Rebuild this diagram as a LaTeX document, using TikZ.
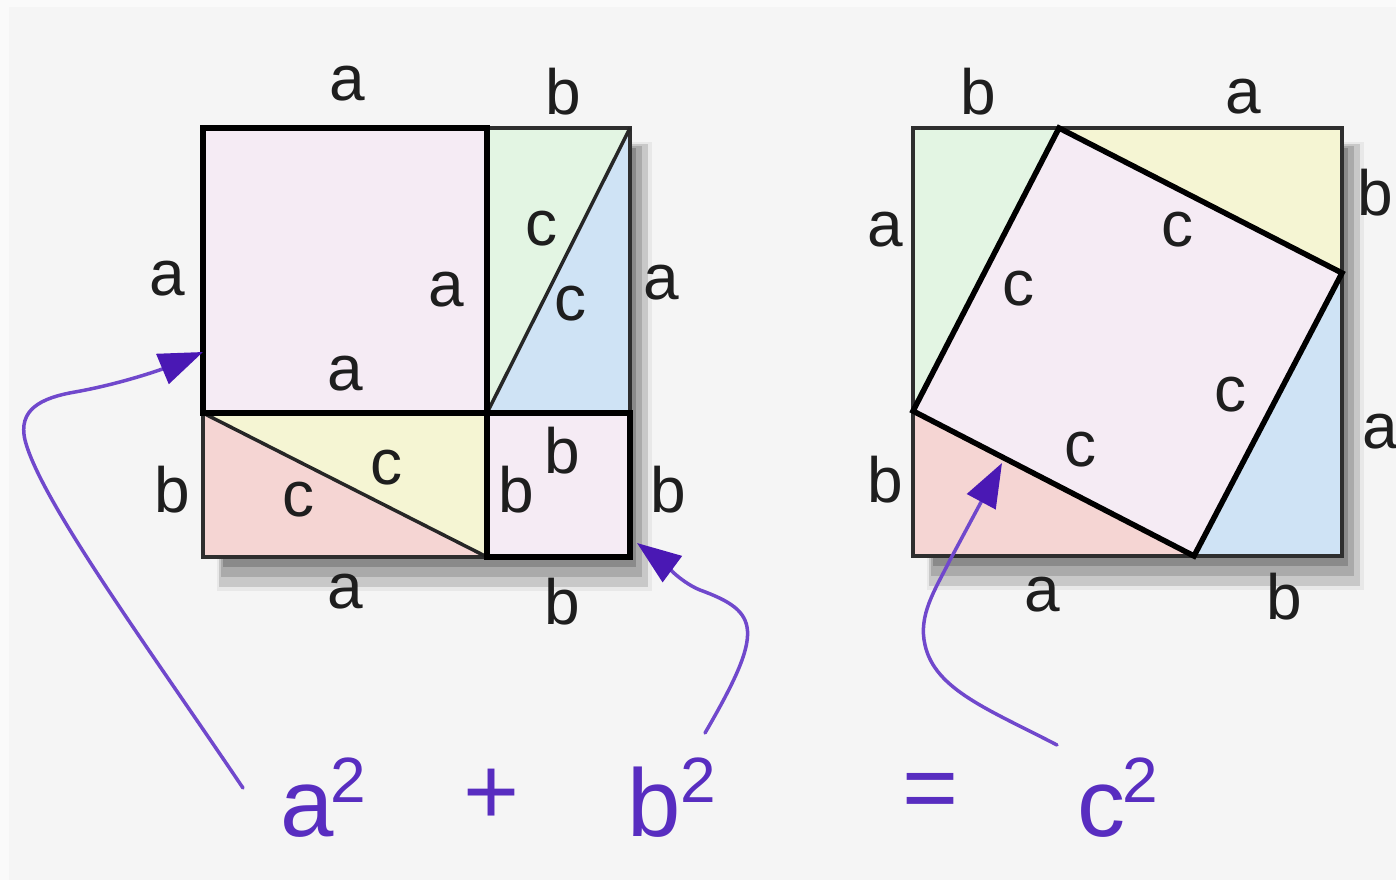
\documentclass[tikz,border=0pt]{standalone}
\usepackage{fontspec}
\setmainfont{Liberation Sans}
\usetikzlibrary{arrows.meta}
\definecolor{bgc}{HTML}{F5F5F5}
\definecolor{bgedge}{HTML}{FAFAFA}
\definecolor{pinkA}{HTML}{F5EBF4}
\definecolor{greenT}{HTML}{E3F5E3}
\definecolor{blueT}{HTML}{CFE3F5}
\definecolor{redT}{HTML}{F5D5D3}
\definecolor{yellowT}{HTML}{F5F5D3}
\definecolor{edgec}{HTML}{2E2E2E}
\definecolor{lblc}{HTML}{1E1E1E}
\definecolor{purp}{RGB}{112,72,204}
\definecolor{purphead}{RGB}{74,24,180}
\definecolor{purptext}{RGB}{88,45,192}
\definecolor{shA}{HTML}{E8E8E8}
\definecolor{shB}{HTML}{C8C8C8}
\definecolor{shC}{HTML}{AAAAAA}
\definecolor{shD}{HTML}{8A8A8A}
\newcommand\lblfont{\fontsize{64}{64}\selectfont}
\newcommand\eqfont{\fontsize{96}{96}\selectfont}
\newcommand\supfont{\fontsize{64}{64}\selectfont}
\newcommand\figshadow[4]{%
  \fill[shA] (#1+14,#2+14) rectangle (#3+22,#4+34);
  \fill[shB] (#1+16,#2+16) rectangle (#3+18,#4+30);
  \fill[shC] (#1+18,#2+18) rectangle (#3+12,#4+20);
  \fill[shD] (#1+20,#2+20) rectangle (#3+6,#4+10);
}
\begin{document}
\begin{tikzpicture}[x=1pt,y=-1pt,
  lbl/.style={font=\lblfont, text=lblc, inner sep=0pt},
  thinline/.style={draw=edgec, line width=4pt, line join=miter},
  thickline/.style={draw=black, line width=5.5pt, line join=miter},
  diag/.style={draw=black!85, line width=3.5pt},
  conn/.style={draw=purp, line width=3.5pt, line cap=round,
    -{Triangle[length=44pt,width=32pt,color=purphead]}},
  eq/.style={font=\eqfont, text=purptext, inner sep=0pt}]
% background
\fill[bgedge] (0,0) rectangle (1396,880);
\fill[bgc] (9,7) rectangle (1396,880);
\useasboundingbox (0,0) rectangle (1396,880);

% ---------------- left figure ----------------
\figshadow{203}{128}{630}{557}
\fill[pinkA] (203,128) rectangle (487,413);
\fill[greenT] (487,128) -- (630,128) -- (487,413) -- cycle;
\fill[blueT] (630,128) -- (630,413) -- (487,413) -- cycle;
\fill[redT] (203,413) -- (487,557) -- (203,557) -- cycle;
\fill[yellowT] (203,413) -- (487,413) -- (487,557) -- cycle;
\fill[pinkA] (487,413) rectangle (630,557);
\draw[thinline] (203,128) rectangle (630,557);
\draw[diag] (487,413) -- (630,128);
\draw[diag] (203,413) -- (487,557);
\draw[thickline] (203,128) rectangle (487,413);
\draw[thickline] (487,413) rectangle (630,557);

% ---------------- right figure ----------------
\figshadow{913}{128}{1342}{556}
\fill[greenT] (913,128) -- (1059,128) -- (913,411) -- cycle;
\fill[yellowT] (1059,128) -- (1342,128) -- (1342,273) -- cycle;
\fill[blueT] (1342,273) -- (1342,556) -- (1194,556) -- cycle;
\fill[redT] (913,411) -- (1194,556) -- (913,556) -- cycle;
\fill[pinkA] (1059,128) -- (1342,273) -- (1194,556) -- (913,411) -- cycle;
\draw[thinline] (913,128) rectangle (1342,556);
\draw[thickline] (1059,128) -- (1342,273) -- (1194,556) -- (913,411) -- cycle;

% ---------------- labels left ----------------
\node[lbl] (l1) at (347,84) {a};
\node[lbl] (l2) at (563,92) {b};
\node[lbl] (l3) at (167,279) {a};
\node[lbl] (l4) at (446,290) {a};
\node[lbl] (l5) at (345,374) {a};
\node[lbl] (l6) at (541,229) {c};
\node[lbl] (l7) at (570,304) {c};
\node[lbl] (l8) at (661,283) {a};
\node[lbl] (l9) at (172,490) {b};
\node[lbl] (l10) at (298,500) {c};
\node[lbl] (l11) at (386,468) {c};
\node[lbl] (l12) at (562,451) {b};
\node[lbl] (l13) at (516,490) {b};
\node[lbl] (l14) at (668,490) {b};
\node[lbl] (l15) at (345,592) {a};
\node[lbl] (l16) at (562,602) {b};

% ---------------- labels right ----------------
\node[lbl] (r1) at (978,92) {b};
\node[lbl] (r2) at (1243,97) {a};
\node[lbl] (r3) at (885,230) {a};
\node[lbl] (r4) at (1375,193) {b};
\node[lbl] (r5) at (1380,432) {a};
\node[lbl] (r6) at (885,480) {b};
\node[lbl] (r7) at (1042,595) {a};
\node[lbl] (r8) at (1284,597) {b};
\node[lbl] (r9) at (1177,230) {c};
\node[lbl] (r10) at (1018,289) {c};
\node[lbl] (r11) at (1230,395) {c};
\node[lbl] (r12) at (1080,450) {c};

% ---------------- equation ----------------
\node[eq, anchor=base west] (a2) at (280,836) {a\kern-3pt\raisebox{34pt}{\supfont 2}};
\node[eq] (plus) at (492,797) {+};
\node[eq, anchor=base west] (b2) at (627,836) {b\raisebox{34pt}{\supfont 2}};
\node[eq] (eqs) at (931,797) {=};
\node[eq, anchor=base west] (c2) at (1077,836) {c\kern-3pt\raisebox{34pt}{\supfont 2}};

% ---------------- arrows ----------------
\coordinate (sA) at (243,788);
\coordinate (tipA) at (203,352);
\coordinate (sB) at (705,733);
\coordinate (tipB) at (637,543);
\coordinate (sC) at (1057,745);
\coordinate (tipC) at (1002,463);
\draw[conn] (sA) .. controls (150,650) and (40,500) .. (25,440)
  .. controls (18,410) and (40,398) .. (75,392)
  .. controls (120,384) and (160,370) .. (tipA);
\draw[conn] (sB) .. controls (765,630) and (760,612) .. (700,590)
  .. controls (680,582) and (660,560) .. (tipB);
\draw[conn] (sC) .. controls (990,710) and (935,690) .. (925,645)
  .. controls (918,615) and (935,590) .. (950,560) -- (tipC);
\end{tikzpicture}
\end{document}
